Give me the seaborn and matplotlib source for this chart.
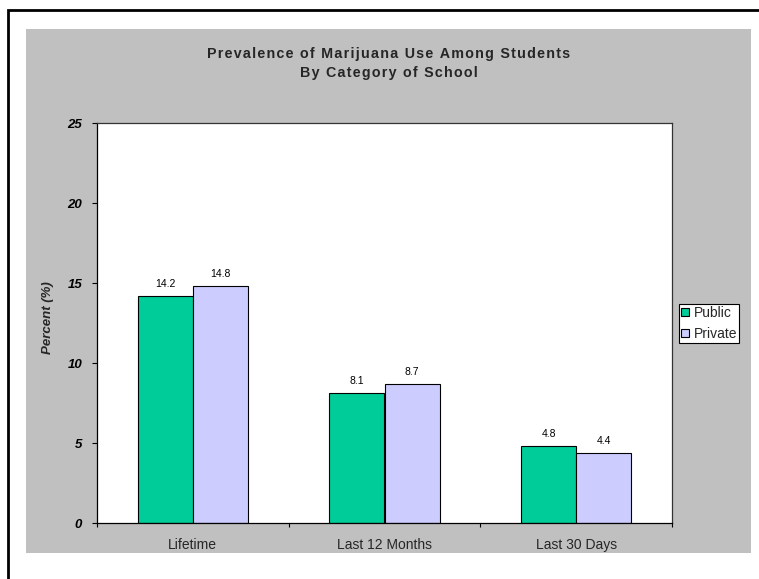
import matplotlib
matplotlib.use("Agg")
import matplotlib.pyplot as plt
from matplotlib.patches import Rectangle, Patch
from matplotlib.ticker import FixedLocator
import seaborn as sns
import pandas as pd

categories = ["Lifetime", "Last 12 Months", "Last 30 Days"]
public_vals = [14.2, 8.1, 4.8]
private_vals = [14.8, 8.7, 4.4]
series_names = ["Public", "Private"]
colors = ["#00CC99", "#CCCCFF"]
title_lines = ["Prevalence of Marijuana Use Among Students", "By Category of School"]
ylabel = "Percent (%)"
yticks = [0, 5, 10, 15, 20, 25]

df = pd.DataFrame({
    "Category": categories * 2,
    "Value": public_vals + private_vals,
    "School": [series_names[0]] * 3 + [series_names[1]] * 3,
})

sns.set_theme(style="white")
plt.rcParams["font.family"] = ["Liberation Sans", "DejaVu Sans"]

W, H = 759, 579
fig = plt.figure(figsize=(W / 100, H / 100), dpi=100)
fig.patch.set_facecolor("white")

def fx(px):
    return px / W

def fy(py):
    return 1 - py / H

# outer border (right/bottom fall outside the image)
fig.patches.append(Rectangle((fx(7.5), fy(700)), 2, fy(9.5) - fy(700),
                             transform=fig.transFigure, facecolor="none",
                             edgecolor="black", linewidth=2, zorder=-2))
# gray chart area
fig.patches.append(Rectangle((fx(26), fy(553)), fx(751) - fx(26), fy(29) - fy(553),
                             transform=fig.transFigure, facecolor="#C0C0C0",
                             edgecolor="none", zorder=-1))

ax = fig.add_axes([fx(97), fy(523), fx(672) - fx(97), fy(123) - fy(523)])
ax.set_facecolor("white")

sns.barplot(data=df, x="Category", y="Value", hue="School", order=categories,
            hue_order=series_names, palette=colors, width=0.575,
            edgecolor="black", linewidth=0.8, saturation=1, ax=ax, legend=False,
            errorbar=None)

for cont in ax.containers:
    ax.bar_label(cont, fmt="%.1f", padding=5, fontsize=7.5, color="black")

ax.set_ylim(0, 25)
ax.set_xlim(-0.5, 2.5)
ax.set_yticks(yticks)
ax.set_yticklabels([str(v) for v in yticks], fontsize=9.5, fontweight="bold",
                   fontstyle="italic")
ax.tick_params(axis="y", direction="out", length=3.6, width=0.8, pad=7,
               left=True, colors="black")
ax.set_xticks(range(len(categories)))
ax.set_xticklabels(categories, fontsize=10)
ax.tick_params(axis="x", which="major", length=0, pad=11)
ax.xaxis.set_minor_locator(FixedLocator([-0.5, 0.5, 1.5, 2.5]))
ax.tick_params(axis="x", which="minor", direction="out", length=3, width=0.8,
               bottom=True, colors="black")
ax.set_xlabel("")
ax.set_ylabel(ylabel, fontsize=9.5, fontweight="bold", fontstyle="italic")
ax.yaxis.set_label_coords((54 - 97) / 575, (523 - 317.5) / 400)

for s in ax.spines.values():
    s.set_visible(True)
    s.set_color("black")
    s.set_linewidth(0.9)
ax.spines["top"].set_color("#333333")
ax.spines["right"].set_color("#333333")

def spaced(s):
    return "\u200a".join(s)

fig.text(fx(389), fy(54), spaced(title_lines[0]), ha="center", va="center",
         fontsize=10.3, fontweight="bold")
fig.text(fx(389), fy(73), spaced(title_lines[1]), ha="center", va="center",
         fontsize=10.3, fontweight="bold")

handles = [Patch(facecolor=c, edgecolor="black", linewidth=0.8) for c in colors]
leg = fig.legend(handles, series_names, loc="upper left",
                 bbox_to_anchor=(fx(679), fy(304)), fontsize=10,
                 frameon=True, fancybox=False, framealpha=1,
                 handlelength=0.55, handleheight=0.55, handletextpad=0.35,
                 borderpad=0.15, labelspacing=0.5, borderaxespad=0)
leg.get_frame().set_edgecolor("black")
leg.get_frame().set_linewidth(0.8)

fig.savefig("out.png", dpi=100)
